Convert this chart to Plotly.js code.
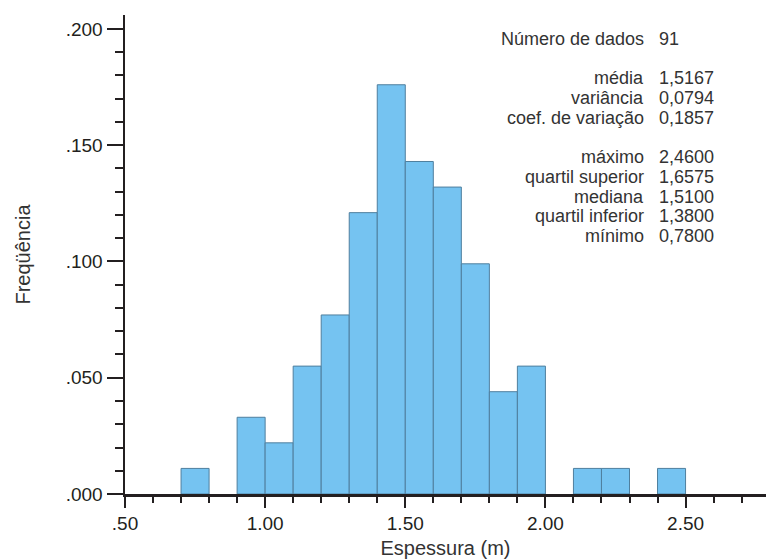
<!DOCTYPE html>
<html>
<head>
<meta charset="utf-8">
<script src="https://cdn.plot.ly/plotly-3.0.1.min.js"></script>
<style>html,body{margin:0;padding:0;background:#fff;}#chart{width:766px;height:559px;}</style>
</head>
<body>
<div id="chart"></div>
<script>
// Bin centres (thickness, m) and relative frequencies
var binCenters = [0.75, 0.95, 1.05, 1.15, 1.25, 1.35, 1.45, 1.55, 1.65, 1.75, 1.85, 1.95, 2.15, 2.25, 2.45];
var frequencies = [0.011, 0.033, 0.022, 0.055, 0.077, 0.121, 0.176, 0.143, 0.132, 0.099, 0.044, 0.055, 0.011, 0.011, 0.011];
var binWidth = 0.1;

var xTickVals = [0.5, 1.0, 1.5, 2.0, 2.5];
var xTickText = ['.50', '1.00', '1.50', '2.00', '2.50'];
var yTickVals = [0, 0.05, 0.10, 0.15, 0.20];
var yTickText = ['.000', '.050', '.100', '.150', '.200'];

var statLabels = ['Número de dados', 'média', 'variância', 'coef. de variação', 'máximo', 'quartil superior', 'mediana', 'quartil inferior', 'mínimo'];
var statValues = ['91', '1,5167', '0,0794', '0,1857', '2,4600', '1,6575', '1,5100', '1,3800', '0,7800'];
var statRows = [0, 2, 3, 4, 6, 7, 8, 9, 10];

var FONT = 'Liberation Sans, Arial, Helvetica, sans-serif';
var AX = '#231f20';
var TXT = '#333333';

var trace = {
  type: 'bar',
  x: binCenters,
  y: frequencies,
  width: binCenters.map(function(){ return binWidth; }),
  marker: { color: '#75c3f1', line: { color: '#4f7f9e', width: 1 } },
  hoverinfo: 'x+y'
};

var figH = 559, marginTop = 15, marginBottom = 65;
var plotH = figH - marginTop - marginBottom;
var annotations = [];
for (var i = 0; i < statLabels.length; i++) {
  var ypx = 39 + statRows[i] * 19.7;
  var yp = (figH - marginBottom - ypx) / plotH;
  annotations.push({ xref: 'paper', yref: 'paper', x: (646 - 125) / 641, y: yp, xanchor: 'right', yanchor: 'middle',
    text: statLabels[i], showarrow: false, font: { family: FONT, size: 18, color: TXT } });
  annotations.push({ xref: 'paper', yref: 'paper', x: (657 - 125) / 641, y: yp, xanchor: 'left', yanchor: 'middle',
    text: statValues[i], showarrow: false, font: { family: FONT, size: 18, color: TXT } });
}

var layout = {
  width: 766, height: 559,
  margin: { l: 125, r: 0, t: marginTop, b: marginBottom, pad: 0 },
  paper_bgcolor: '#ffffff', plot_bgcolor: '#ffffff',
  showlegend: false,
  bargap: 0,
  font: { family: FONT, color: AX },
  xaxis: {
    range: [0.5, 2.787],
    tickmode: 'array', tickvals: xTickVals, ticktext: xTickText,
    ticks: 'outside', ticklen: 11, tickwidth: 2, tickcolor: AX,
    minor: { tickmode: 'linear', tick0: 0.5, dtick: 0.1, ticks: 'outside', ticklen: 6, tickwidth: 2, tickcolor: AX, showgrid: false },
    showline: true, linecolor: AX, linewidth: 2.5,
    showgrid: false, zeroline: false,
    tickfont: { family: FONT, size: 19, color: AX },
    title: { text: 'Espessura (m)', font: { family: FONT, size: 20, color: TXT }, standoff: 10 },
    automargin: false
  },
  yaxis: {
    range: [0, 0.206],
    tickmode: 'array', tickvals: yTickVals, ticktext: yTickText,
    ticks: 'outside', ticklen: 16, tickwidth: 2, tickcolor: AX,
    minor: { tickmode: 'linear', tick0: 0, dtick: 0.01, ticks: 'outside', ticklen: 8, tickwidth: 2, tickcolor: AX, showgrid: false },
    showline: true, linecolor: AX, linewidth: 2.5,
    showgrid: false, zeroline: false,
    tickfont: { family: FONT, size: 19, color: AX },
    title: { text: 'Freqüência', font: { family: FONT, size: 20, color: TXT }, standoff: 30 },
    automargin: false
  },
  annotations: annotations
};

Plotly.newPlot('chart', [trace], layout, { displayModeBar: false, staticPlot: true });
</script>
</body>
</html>
